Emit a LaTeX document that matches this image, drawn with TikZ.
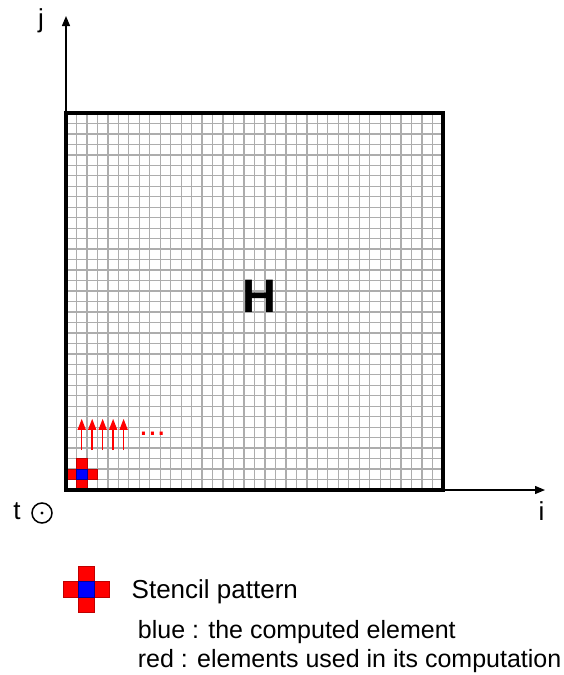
\documentclass[tikz,border=0pt]{standalone}
\usepackage{fontspec}
\setmainfont{Liberation Sans}
\usetikzlibrary{arrows.meta}
\begin{document}
\begin{tikzpicture}[x=1pt,y=-1pt,
        axis/.style={line width=1.3pt,-{Triangle[length=10pt,width=8pt]}},
        gridline/.style={line width=1.3pt,color=black!32},
        frame/.style={line width=4pt},
        redcell/.style={fill=red,draw=red!75!black,line width=0.4pt},
        bluecell/.style={fill=blue,draw=blue!60!black,line width=0.4pt},
        sweep/.style={red,line width=1.5pt,-{Triangle[length=11pt,width=8pt]}},
        lbl/.style={inner sep=0pt,font=\fontsize{26}{30}\selectfont},
        legend/.style={inner sep=0pt,anchor=base west,font=\fontsize{25}{30}\selectfont},
        stencil/.pic={
            \foreach \dx/\dy in {-1/0,1/0,0/-1,0/1}
                \filldraw[redcell] (\dx-0.5,\dy-0.5) rectangle ++(1,1);
            \filldraw[bluecell] (-0.5,-0.5) rectangle ++(1,1);
        }]
        \useasboundingbox (0,0) rectangle (564,675);
        %% Axes
        \coordinate (O) at (66,490);
        \coordinate (jend) at (66,16);
        \coordinate (iend) at (545,490);
        \draw[axis] (O) to (jend);
        \draw[axis] (O) to (iend);
        \node[lbl] (j) at (41,21) {j};
        \node[lbl] (i) at (541.5,511.5) {i};
        \node[lbl] (t) at (17,511) {t};
        \node[circle,draw,line width=1.5pt,minimum size=20pt,inner sep=0pt] (tdir) at (42,513) {};
        \fill (tdir.center) circle (1.6pt);
        %% Grid H
        \begin{scope}[shift={(O)},x=10.472pt,y=10.472pt]
            \foreach \n in {1,...,35} {
                \draw[gridline] (\n,0) -- (\n,36);
                \draw[gridline] (0,\n) -- (36,\n);
            }
            \pic at (1.5,1.5) {stencil};
            \foreach \k in {1,...,5}
                \draw[sweep] (\k+0.5,3.8) -- (\k+0.5,6.8);
            \draw[frame] (0,0) rectangle (36,36);
        \end{scope}
        \node[text=red,inner sep=0pt,anchor=base west,font=\fontsize{32}{32}\selectfont] (more) at (139,435) {...};
        \node[inner sep=0pt,font=\fontsize{47}{50}\selectfont\bfseries] (H) at (259,296) {H};
        %% Legend
        \begin{scope}[shift={(86.3,589.2)},x=15.3pt,y=15.3pt]
            \pic {stencil};
        \end{scope}
        \node[legend,font=\fontsize{26}{30}\selectfont] (legtitle) at (131.5,598) {Stencil pattern};
        \node[legend] (legblue) at (137.7,638) {blue : the computed element};
        \node[legend] (legred) at (137.7,667) {red : elements used in its computation};
\end{tikzpicture}
\end{document}
